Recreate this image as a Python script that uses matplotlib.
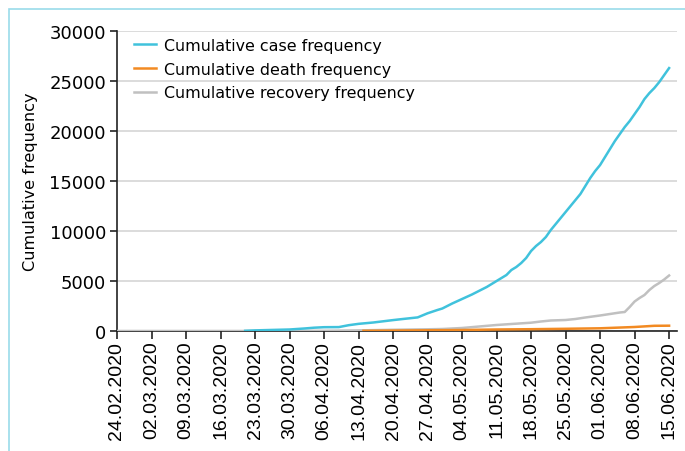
import matplotlib

matplotlib.use("Agg")
import matplotlib.dates as mdates
import matplotlib.pyplot as plt
import pandas as pd
from matplotlib.patches import Rectangle

# cumulative cases (first case around 21.03)
CASE_DATES = [
    "2020-03-21", "2020-03-23", "2020-03-26", "2020-03-30", "2020-04-02",
    "2020-04-04", "2020-04-06", "2020-04-09", "2020-04-11", "2020-04-13",
    "2020-04-16", "2020-04-20", "2020-04-22", "2020-04-25", "2020-04-27",
    "2020-04-29", "2020-04-30", "2020-05-02", "2020-05-04", "2020-05-06",
    "2020-05-07", "2020-05-09", "2020-05-11", "2020-05-13", "2020-05-14",
    "2020-05-15", "2020-05-16", "2020-05-17", "2020-05-18", "2020-05-19",
    "2020-05-20", "2020-05-21", "2020-05-22", "2020-05-23", "2020-05-24",
    "2020-05-25", "2020-05-26", "2020-05-27", "2020-05-28", "2020-05-29",
    "2020-05-30", "2020-05-31", "2020-06-01", "2020-06-02", "2020-06-03",
    "2020-06-04", "2020-06-05", "2020-06-06", "2020-06-07", "2020-06-08",
    "2020-06-09", "2020-06-10", "2020-06-11", "2020-06-12", "2020-06-13",
    "2020-06-14", "2020-06-15",
]
CASES = [
    20, 60, 100, 150, 250,
    330, 380, 390, 580, 714,
    850, 1090, 1200, 1360, 1770,
    2100, 2250, 2750, 3200, 3650,
    3900, 4400, 5000, 5600, 6100,
    6400, 6800, 7300, 8000, 8500,
    8900, 9400, 10100, 10700, 11300,
    11900, 12500, 13100, 13700, 14500,
    15300, 16000, 16600, 17400, 18200,
    19000, 19700, 20400, 21000, 21700,
    22400, 23200, 23800, 24300, 24900,
    25600, 26300,
]

# cumulative recoveries (drawn from the first day of the axis)
RECOVERY_DATES = [
    "2020-02-24", "2020-03-21", "2020-04-06", "2020-04-13", "2020-04-20",
    "2020-04-27", "2020-04-30", "2020-05-04", "2020-05-11", "2020-05-14",
    "2020-05-18", "2020-05-20", "2020-05-22", "2020-05-25", "2020-05-27",
    "2020-05-29", "2020-06-01", "2020-06-03", "2020-06-05", "2020-06-06",
    "2020-06-07", "2020-06-08", "2020-06-09", "2020-06-10", "2020-06-11",
    "2020-06-12", "2020-06-13", "2020-06-14", "2020-06-15",
]
RECOVERIES = [
    0, 0, 20, 60, 120,
    170, 200, 300, 600, 700,
    830, 950, 1050, 1100, 1200,
    1350, 1550, 1700, 1850, 1900,
    2400, 2950, 3300, 3600, 4100,
    4500, 4800, 5150, 5550,
]

# cumulative deaths (first one around 14.04)
DEATH_DATES = [
    "2020-04-14", "2020-04-20", "2020-04-27", "2020-05-04", "2020-05-11",
    "2020-05-18", "2020-05-25", "2020-06-01", "2020-06-08", "2020-06-12",
    "2020-06-15",
]
DEATHS = [20, 40, 70, 100, 150, 180, 220, 270, 400, 520, 530]

SERIES_LABELS = [
    "Cumulative case frequency",
    "Cumulative death frequency",
    "Cumulative recovery frequency",
]
COL_CASE = "#40c2dc"
COL_DEATH = "#f28a22"
COL_RECOVERY = "#c0c0c0"

TICK_START = "2020-02-24"
TICK_END = "2020-06-15"


def main() -> None:
    fig = plt.figure(figsize=(6.85, 4.52), dpi=100)
    ax = fig.add_axes([0.1708, 0.2655, 0.8175, 0.6635])

    # light blue frame around the figure, cut off at the right and bottom
    fig.patches.append(
        Rectangle(
            (0.0125, -0.2), 1.3, 1.178,
            transform=fig.transFigure, fill=False,
            edgecolor="#9adbea", linewidth=1.2, clip_on=False,
        )
    )

    lw = 1.8
    (l_rec,) = ax.plot(pd.to_datetime(RECOVERY_DATES), RECOVERIES,
                       color=COL_RECOVERY, lw=lw, zorder=2)
    (l_case,) = ax.plot(pd.to_datetime(CASE_DATES), CASES,
                        color=COL_CASE, lw=lw, zorder=3)
    (l_death,) = ax.plot(pd.to_datetime(DEATH_DATES), DEATHS,
                         color=COL_DEATH, lw=lw, zorder=4)

    ticks = pd.date_range(TICK_START, TICK_END, freq="7D")
    ax.set_xticks(ticks)
    ax.xaxis.set_major_formatter(mdates.DateFormatter("%d.%m.%Y"))
    ax.set_xlim(pd.Timestamp(TICK_START), pd.Timestamp(TICK_END) + pd.Timedelta(days=1.6))
    ax.set_ylim(0, 30000)
    ax.set_yticks(range(0, 30001, 5000))

    for lab in ax.get_xticklabels():
        lab.set_rotation(90)
        lab.set_family("Liberation Sans")
        lab.set_fontsize(14)
    for lab in ax.get_yticklabels():
        lab.set_family("DejaVu Sans")
        lab.set_fontsize(13)

    ax.tick_params(axis="x", length=6, width=1.2, color="#222222", pad=1)
    ax.tick_params(axis="y", length=5, width=1.2, color="#222222", pad=3)

    ax.grid(axis="y", color="#d6d6d6", lw=1.2)
    ax.set_axisbelow(True)
    for side in ("top", "right"):
        ax.spines[side].set_visible(False)
    for side in ("left", "bottom"):
        ax.spines[side].set_color("#222222")
        ax.spines[side].set_linewidth(1.2)
        ax.spines[side].set_zorder(1)

    ax.set_ylabel("Cumulative frequency", fontsize=11.6, family="DejaVu Sans", labelpad=8)

    ax.legend(
        [l_case, l_death, l_rec], SERIES_LABELS,
        loc="upper left", bbox_to_anchor=(0.030, 0.978),
        frameon=False, handlelength=1.4, handletextpad=0.5,
        labelspacing=0.56, borderaxespad=0, borderpad=0,
        prop={"family": "DejaVu Sans", "size": 11.4},
    )

    fig.savefig("out.png", dpi=100)
    plt.close(fig)


if __name__ == "__main__":
    main()
